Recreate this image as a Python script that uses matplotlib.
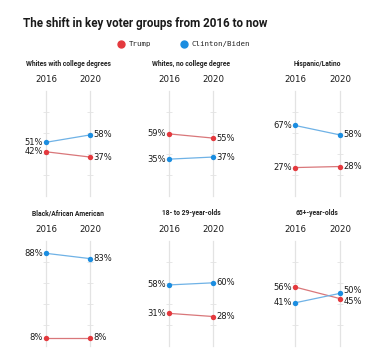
import matplotlib
matplotlib.use("Agg")
import matplotlib.pyplot as plt
from matplotlib.lines import Line2D

# data
groups = ["Whites with college degrees", "Whites, no college degree", "Hispanic/Latino",
          "Black/African American", "18- to 29-year-olds", "65+-year-olds"]
years = ["2016", "2020"]
trump = [[42, 37], [59, 55], [27, 28], [8, 8], [31, 28], [56, 45]]
clinton_biden = [[51, 58], [35, 37], [67, 58], [88, 83], [58, 60], [41, 50]]

RED = "#e4393e"
BLUE = "#1b8de0"
RED_LINE = "#d9777a"
BLUE_LINE = "#6fb2e6"
GRID = "#e3e3e3"

W, H = 380, 359
fig = plt.figure(figsize=(W / 100, H / 100), dpi=100)
fig.patch.set_facecolor("white")

def px(x, y):
    return x / W, 1 - y / H

fig.text(*px(23, 24), "The shift in key voter groups from 2016 to now", fontsize=8.4,
         fontweight="bold", family="Roboto", color="#1a1a1a", va="center", ha="left")

# legend
for lx, col, lab in [(121, RED, "Trump"), (184, BLUE, "Clinton/Biden")]:
    fig.add_artist(Line2D([lx / W], [1 - 44 / H], marker="o", ms=5, color=col, ls="none",
                          transform=fig.transFigure))
    fig.text(*px(lx + 8, 44), lab, fontsize=5.3, family="DejaVu Sans Mono", va="center",
             color="#222222")

col_x = [46, 169, 295]
col_w = [44, 44, 45]
row_y0 = [196, 346]  # pixel y of 0%
row_h = 105.3

# label nudges for overlapping labels (in %)
nudge = {(5, 1, "b"): 2.5, (5, 1, "t"): -2.5}

for i, g in enumerate(groups):
    r, c = divmod(i, 3)
    left, bottom = px(col_x[c], row_y0[r])
    ax = fig.add_axes([left, bottom, col_w[c] / W, row_h / H])
    ax.set_xlim(0, 1)
    ax.set_ylim(0, 100)
    ax.axis("off")

    for x in [0, 1]:
        ax.plot([x, x], [0, 100], color=GRID, lw=0.9, zorder=0, clip_on=False)
        ax.plot([x] * 4, [20, 40, 60, 80], ls="none", marker="_", ms=4, mew=0.6,
                color=GRID, zorder=0, clip_on=False)

    ax.plot([0, 1], trump[i], color=RED_LINE, lw=0.9, zorder=1, clip_on=False)
    ax.plot([0, 1], clinton_biden[i], color=BLUE_LINE, lw=0.9, zorder=1, clip_on=False)
    ax.scatter([0, 1], trump[i], s=15, color=RED, zorder=2, clip_on=False, lw=0)
    ax.scatter([0, 1], clinton_biden[i], s=15, color=BLUE, zorder=2, clip_on=False, lw=0)

    for j, x in enumerate([0, 1]):
        for vals, key in [(trump[i], "t"), (clinton_biden[i], "b")]:
            v = vals[j]
            y = v + nudge.get((i, j, key), 0)
            if j == 0:
                ax.text(x - 0.07, y, f"{v}%", ha="right", va="center", fontsize=6,
                        color="#1a1a1a", clip_on=False)
            else:
                ax.text(x + 0.07, y, f"{v}%", ha="left", va="center", fontsize=6,
                        color="#1a1a1a", clip_on=False)

    cx = col_x[c] + col_w[c] / 2
    ty = 64 if r == 0 else 213
    yy = 79 if r == 0 else 229
    fig.text(*px(cx, ty), g, ha="center", va="center", fontsize=4.9, fontweight="bold",
             family="Roboto", color="#222222")
    fig.text(*px(col_x[c], yy), years[0], ha="center", va="center", fontsize=6.2, color="#1a1a1a")
    fig.text(*px(col_x[c] + col_w[c], yy), years[1], ha="center", va="center", fontsize=6.2, color="#1a1a1a")

fig.savefig("out.png", dpi=100, facecolor="white")
